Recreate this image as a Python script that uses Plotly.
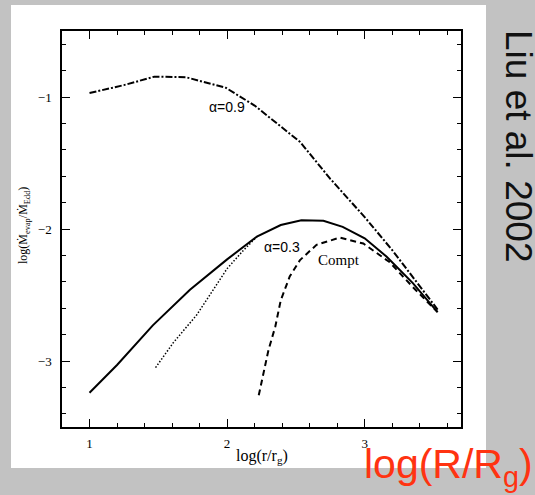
import plotly.graph_objects as go

# ---- data ----
a09_x = [1.0, 1.25, 1.47, 1.70, 1.99, 2.2, 2.53, 2.75, 3.0, 3.2, 3.53]
a09_y = [-0.97, -0.91, -0.846, -0.85, -0.93, -1.065, -1.34, -1.62, -1.91, -2.16, -2.61]

a03_x = [1.0, 1.2, 1.46, 1.73, 2.0, 2.22, 2.39, 2.54, 2.70, 2.84, 3.0, 3.16, 3.35, 3.53]
a03_y = [-3.24, -3.03, -2.73, -2.46, -2.23, -2.055, -1.97, -1.934, -1.938, -1.984, -2.07, -2.21, -2.41, -2.63]

dot_x = [1.48, 1.61, 1.78, 1.90, 2.0, 2.12, 2.22]
dot_y = [-3.05, -2.86, -2.65, -2.46, -2.30, -2.16, -2.055]

compt_x = [2.23, 2.30, 2.35, 2.39, 2.455, 2.53, 2.65, 2.82, 2.99, 3.18, 3.35, 3.53]
compt_y = [-3.26, -2.92, -2.74, -2.54, -2.36, -2.235, -2.12, -2.065, -2.11, -2.25, -2.44, -2.63]

x_ticks = [1, 2, 3]
y_ticks = [-3, -2, -1]

W, H = 535, 495
ML, MR, MT, MB = 62, 74, 31, 68
PW, PH = W - ML - MR, H - MT - MB


def px(x):
    return (x - ML) / PW


def py(y):
    return (H - MB - y) / PH


fig = go.Figure()
fig.add_trace(go.Scatter(x=a09_x, y=a09_y, mode="lines",
                         line=dict(color="black", width=2, dash="7px,2px,2px,2px")))
fig.add_trace(go.Scatter(x=a03_x, y=a03_y, mode="lines",
                         line=dict(color="black", width=2)))
fig.add_trace(go.Scatter(x=dot_x, y=dot_y, mode="lines",
                         line=dict(color="black", width=1.5, dash="1.5px,1.8px")))
fig.add_trace(go.Scatter(x=compt_x, y=compt_y, mode="lines",
                         line=dict(color="black", width=2, dash="6px,4px")))

serif = "Liberation Serif"
axis_common = dict(showline=True, linecolor="black", linewidth=1.5, mirror="allticks",
                   ticks="inside", ticklen=8, tickwidth=1.3, tickcolor="black",
                   showgrid=False, zeroline=False,
                   tickfont=dict(family=serif, size=13, color="black"))

fig.update_xaxes(range=[0.8, 3.7], tickvals=x_ticks, ticktext=[str(v) for v in x_ticks],
                 minor=dict(dtick=0.2, tick0=0, ticks="inside", ticklen=4, tickwidth=1, tickcolor="black"),
                 ticklabelstandoff=4, **axis_common)
fig.update_yaxes(range=[-3.5, -0.5], tickvals=y_ticks, ticktext=["\u22123", "\u22122", "\u22121"],
                 minor=dict(dtick=0.2, tick0=0, ticks="inside", ticklen=4, tickwidth=1, tickcolor="black"),
                 ticklabelstandoff=6, **axis_common)

anns = [
    dict(x=2.0, y=-1.078, xref="x", yref="y", text="\u03b1=0.9",
         font=dict(family="Liberation Sans", size=14, color="black")),
    dict(x=2.40, y=-2.135, xref="x", yref="y", text="\u03b1=0.3",
         font=dict(family="Liberation Sans", size=14, color="black")),
    dict(x=2.816, y=-2.235, xref="x", yref="y", text="Compt",
         font=dict(family=serif, size=15, color="black")),
    dict(x=px(262), y=py(456), xref="paper", yref="paper", text="log(r/r<sub>g</sub>)",
         font=dict(family=serif, size=16, color="black")),
    dict(x=px(24), y=py(226), xref="paper", yref="paper", textangle=-90,
         text="log(\u1e40<sub>evap</sub>/\u1e40<sub>Edd</sub>)",
         font=dict(family=serif, size=12, color="black")),
    dict(x=px(519), y=py(146), xref="paper", yref="paper", textangle=90,
         text="Liu et al. 2002",
         font=dict(family="Liberation Sans", size=37, color="#111111")),
    dict(x=px(448), y=py(467), xref="paper", yref="paper", text="log(R/R<sub>g</sub>)",
         font=dict(family="Liberation Sans", size=41, color="#ff3311")),
]
for a in anns:
    a.setdefault("showarrow", False)
    a.setdefault("xanchor", "center")
    a.setdefault("yanchor", "middle")
fig.update_layout(annotations=anns)

fig.add_shape(type="rect", xref="paper", yref="paper",
              x0=px(11), x1=px(486), y0=py(468), y1=py(5),
              fillcolor="white", line=dict(width=0), layer="below")

fig.update_layout(width=W, height=H, margin=dict(l=ML, r=MR, t=MT, b=MB),
                  paper_bgcolor="#c2c2c2", plot_bgcolor="white", showlegend=False)

fig.write_html("out.html")
